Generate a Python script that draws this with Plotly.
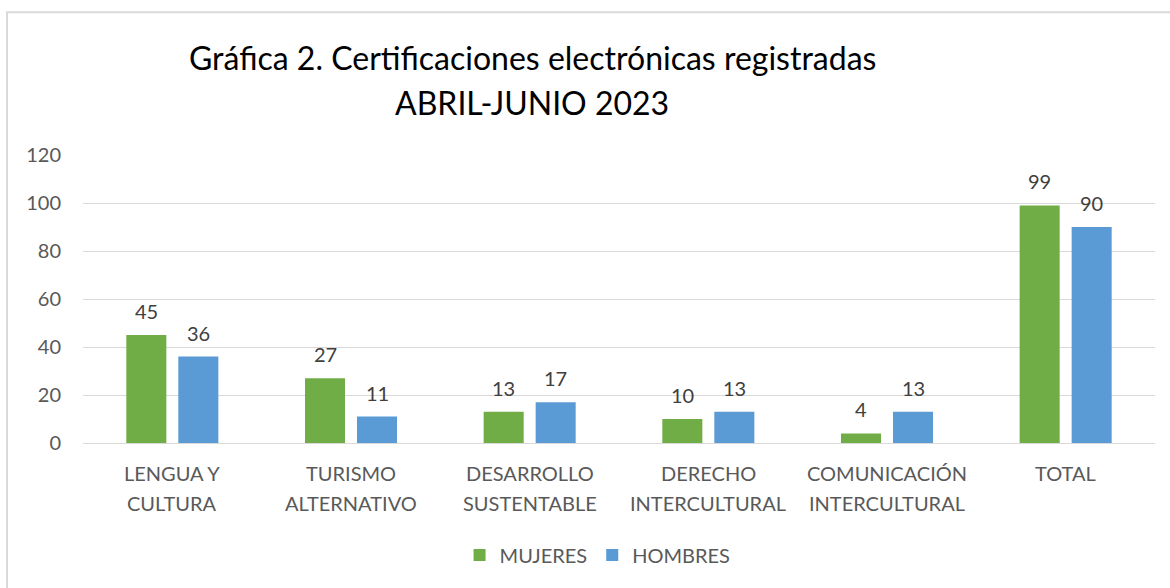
import plotly.graph_objects as go

cat_line1 = ["LENGUA Y", "TURISMO", "DESARROLLO", "DERECHO", "COMUNICACIÓN", "TOTAL"]
cat_line2 = ["CULTURA", "ALTERNATIVO", "SUSTENTABLE", "INTERCULTURAL", "INTERCULTURAL", ""]
categories = [a + " " + b if b else a for a, b in zip(cat_line1, cat_line2)]
mujeres = [45, 27, 13, 10, 4, 99]
hombres = [36, 11, 17, 13, 13, 90]
y_ticks = [0, 20, 40, 60, 80, 100, 120]
title_line1 = "Gráfica 2. Certificaciones electrónicas registradas"
title_line2 = "ABRIL-JUNIO 2023"

FONT = "Lato"
GREEN = "#70AD47"
BLUE = "#5B9BD5"
LABEL = "#595959"

fig = go.Figure()
fig.add_trace(go.Bar(name="MUJERES", x=categories, y=mujeres, marker_color=GREEN,
                     marker_line_width=0))
fig.add_trace(go.Bar(name="HOMBRES", x=categories, y=hombres, marker_color=BLUE,
                     marker_line_width=0))

annotations = []
for cat, m, h in zip(categories, mujeres, hombres):
    annotations.append(dict(x=cat, y=m, xref="x", yref="y", text=str(m), showarrow=False,
                            xshift=-26, yshift=24, font=dict(family=FONT, size=20, color="#404040")))
    annotations.append(dict(x=cat, y=h, xref="x", yref="y", text=str(h), showarrow=False,
                            xshift=26, yshift=24, font=dict(family=FONT, size=20, color="#404040")))
for cat, l1, l2 in zip(categories, cat_line1, cat_line2):
    annotations.append(dict(x=cat, y=-0.104, xref="x", yref="paper", text=l1, showarrow=False,
                            yanchor="middle", font=dict(family=FONT, size=20, color=LABEL)))
    if l2:
        annotations.append(dict(x=cat, y=-0.208, xref="x", yref="paper", text=l2, showarrow=False,
                                yanchor="middle", font=dict(family=FONT, size=20, color=LABEL)))

annotations.append(dict(xref="paper", yref="paper", x=0.419, y=1.340, text=title_line1,
                        showarrow=False, yanchor="middle",
                        font=dict(family=FONT, size=32, color="#000000")))
annotations.append(dict(xref="paper", yref="paper", x=0.419, y=1.184, text=title_line2,
                        showarrow=False, yanchor="middle",
                        font=dict(family=FONT, size=32, color="#000000")))

fig.update_layout(
    width=1170, height=588,
    margin=dict(l=83, r=15, t=155, b=145),
    paper_bgcolor="white", plot_bgcolor="white",
    barmode="group", bargap=0.418, bargroupgap=0.23,
    font=dict(family=FONT, size=20, color=LABEL),
    showlegend=True,
    legend=dict(orientation="h", x=0.48, xanchor="center", y=-0.389, yanchor="middle",
                font=dict(family=FONT, size=20, color=LABEL), itemwidth=30,
                traceorder="normal"),
    annotations=annotations,
    shapes=[dict(type="rect", xref="paper", yref="paper", x0=-0.0709, x1=1.03, y0=-0.7, y1=1.496,
                 line=dict(color="#D9D9D9", width=2), fillcolor="rgba(0,0,0,0)", layer="below")],
)
fig.update_yaxes(range=[0, 120], tickvals=y_ticks, showgrid=True, gridcolor="#D9D9D9", gridwidth=1,
                 zeroline=True, zerolinecolor="#D9D9D9", zerolinewidth=1, showline=False,
                 ticks="", ticklabelstandoff=21, tickfont=dict(family=FONT, size=20, color=LABEL))
fig.update_xaxes(showline=False, ticks="", showticklabels=False)

fig.write_html("out.html")
